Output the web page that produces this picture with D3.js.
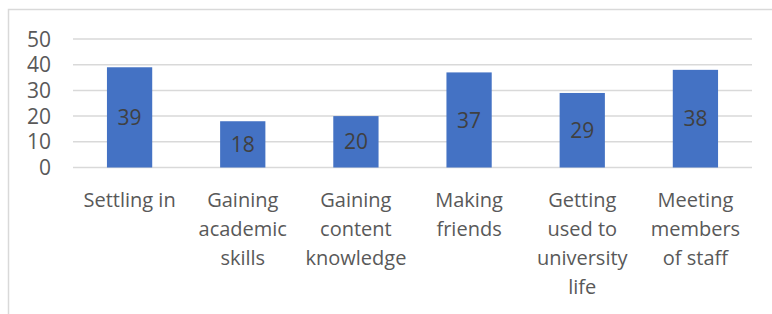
<!DOCTYPE html>
<html>
<head>
<meta charset="utf-8">
<script src="https://cdn.jsdelivr.net/npm/d3@7"></script>
<style>
  body { margin: 0; background: #fff; }
  text { font-family: "Open Sans", "Liberation Sans", sans-serif; }
</style>
</head>
<body>
<div id="chart"></div>
<script>
var categories = ["Settling in", "Gaining academic skills", "Gaining content knowledge",
    "Making friends", "Getting used to university life", "Meeting members of staff"];
// wrapped lines as they appear under the axis
var categoryLines = [
    ["Settling in"],
    ["Gaining", "academic", "skills"],
    ["Gaining", "content", "knowledge"],
    ["Making", "friends"],
    ["Getting", "used to", "university", "life"],
    ["Meeting", "members", "of staff"]
];
var values = [39, 18, 20, 37, 29, 38];
var yTicks = [0, 10, 20, 30, 40, 50];

var width = 772, height = 314;

var svg = d3.select("#chart")
    .append("svg")
    .attr("width", width)
    .attr("height", height);

// chart border (only top and left visible in frame)
svg.append("rect")
    .attr("x", 8.5)
    .attr("y", 9.5)
    .attr("width", 800)
    .attr("height", 400)
    .attr("fill", "none")
    .attr("stroke", "#d9d9d9")
    .attr("stroke-width", 1.5);

var x = d3.scaleBand()
    .domain(categories)
    .range([73, 752])
    .paddingInner(0.6)
    .paddingOuter(0.3);

var y = d3.scaleLinear()
    .domain([0, 50])
    .range([167.5, 39]);

// gridlines
svg.append("g")
    .selectAll("line")
    .data(yTicks)
    .enter()
    .append("line")
    .attr("x1", 73)
    .attr("x2", 752)
    .attr("y1", function (d) { return y(d); })
    .attr("y2", function (d) { return y(d); })
    .attr("stroke", "#d9d9d9")
    .attr("stroke-width", 1.5);

// y axis labels
svg.append("g")
    .selectAll("text")
    .data(yTicks)
    .enter()
    .append("text")
    .attr("x", 51)
    .attr("y", function (d) { return y(d); })
    .attr("dy", "0.36em")
    .attr("text-anchor", "end")
    .attr("fill", "#595959")
    .style("font-size", "21px")
    .text(function (d) { return d; });

// bars
svg.append("g")
    .selectAll("rect")
    .data(values)
    .enter()
    .append("rect")
    .attr("x", function (d, i) { return x(categories[i]); })
    .attr("y", function (d) { return y(d); })
    .attr("width", x.bandwidth())
    .attr("height", function (d) { return y(0) - y(d); })
    .attr("fill", "#4472c4");

// data labels centered in bar
svg.append("g")
    .selectAll("text")
    .data(values)
    .enter()
    .append("text")
    .attr("x", function (d, i) { return x(categories[i]) + x.bandwidth() / 2; })
    .attr("y", function (d) { return (y(d) + y(0)) / 2; })
    .attr("dy", "0.36em")
    .attr("text-anchor", "middle")
    .attr("fill", "#404040")
    .style("font-size", "21px")
    .text(function (d) { return d; });

// category labels
var cat = svg.append("g")
    .selectAll("text")
    .data(categoryLines)
    .enter()
    .append("text")
    .attr("x", function (d, i) { return x(categories[i]) + x.bandwidth() / 2; })
    .attr("y", 200)
    .attr("text-anchor", "middle")
    .attr("fill", "#595959")
    .style("font-size", "20px");

cat.selectAll("tspan")
    .data(function (d) { return d; })
    .enter()
    .append("tspan")
    .attr("x", function () { return d3.select(this.parentNode).attr("x"); })
    .attr("y", function (d, i) { return 200 + i * 29; })
    .attr("dy", "0.36em")
    .text(function (d) { return d; });
</script>
</body>
</html>
